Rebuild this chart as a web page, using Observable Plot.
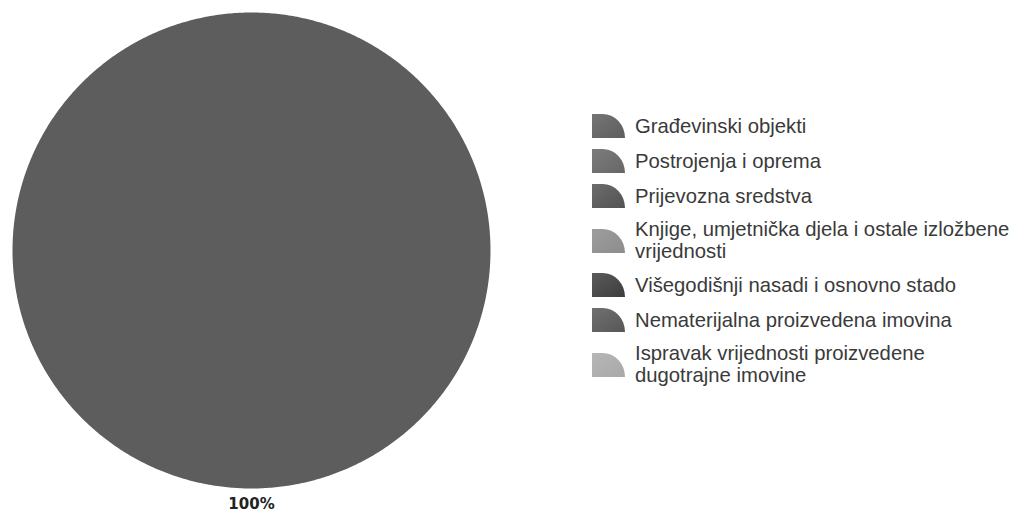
<!DOCTYPE html>
<html>
<head>
<meta charset="utf-8">
<script src="https://cdn.jsdelivr.net/npm/d3@7"></script>
<script src="https://cdn.jsdelivr.net/npm/@observablehq/plot@0.6"></script>
<style>
  html, body { margin: 0; padding: 0; background: #fff; }
  #wrap { position: relative; width: 1014px; height: 512px; overflow: hidden; }
  #legend { position: absolute; left: 592px; top: 113px; font-family: "Liberation Sans", Arial, sans-serif; font-size: 20.3px; line-height: 22px; color: #3a3a3a; }
  .item { display: flex; align-items: center; margin-bottom: 10px; }
  .item svg { flex: none; margin-right: 10px; }
  .item span { white-space: pre-line; }
</style>
</head>
<body>
<div id="wrap"><div id="legend"></div></div>
<script>
const categories = [
  "Građevinski objekti",
  "Postrojenja i oprema",
  "Prijevozna sredstva",
  "Knjige, umjetnička djela i ostale izložbene\nvrijednosti",
  "Višegodišnji nasadi i osnovno stado",
  "Nematerijalna proizvedena imovina",
  "Ispravak vrijednosti proizvedene\ndugotrajne imovine"
];
const shares = [100, 0, 0, 0, 0, 0, 0];
const colors = ["#5d5d5d", "#666666", "#525252", "#8c8c8c", "#3d3d3d", "#575757", "#a9a9a9"];
const percentLabels = ["100%", "", "", "", "", "", ""];

const table = categories.map((c, i) => ({category: c, value: shares[i], label: percentLabels[i]}));
const arcs = d3.pie().value(d => d.value).sort(null)(table).filter(a => a.value > 0);

// slice outlines in unit (data) space
const slicePts = [];
for (const a of arcs) {
  const n = Math.max(2, Math.ceil((a.endAngle - a.startAngle) / (Math.PI / 360)));
  slicePts.push({category: a.data.category, x: 0, y: 0});
  for (let k = 0; k <= n; k++) {
    const t = a.startAngle + (a.endAngle - a.startAngle) * k / n;
    slicePts.push({category: a.data.category, x: Math.sin(t), y: Math.cos(t)});
  }
}
const labelR = 1.065;
const labelPts = arcs.map(a => {
  const m = (a.startAngle + a.endAngle) / 2;
  return {label: a.data.label, x: labelR * Math.sin(m), y: labelR * Math.cos(m)};
});

const chart = Plot.plot({
  width: 1014,
  height: 512,
  marginLeft: 12,
  marginRight: 524,
  marginTop: 12,
  marginBottom: 24,
  x: {domain: [-1, 1], axis: null},
  y: {domain: [-1, 1], axis: null},
  color: {domain: categories, range: colors},
  style: {background: "transparent"},
  marks: [
    Plot.line(slicePts, {x: "x", y: "y", z: "category", fill: "category", stroke: "none", curve: "linear-closed"}),
    Plot.text(labelPts, {x: "x", y: "y", text: "label", fontSize: 15, fontWeight: "bold", fill: "#222", fontFamily: "DejaVu Sans, sans-serif", textAnchor: "middle", lineAnchor: "middle"})
  ]
});
document.getElementById("wrap").prepend(chart);

const legend = document.getElementById("legend");
categories.forEach((c, i) => {
  const item = document.createElement("div");
  item.className = "item";
  const w = 33, h = 25;
  item.innerHTML =
    `<svg width="${w}" height="${h}" viewBox="0 0 ${w} ${h}">` +
    `<defs><linearGradient id="g${i}" x1="0" y1="0" x2="1" y2="1"><stop offset="0" stop-color="${colors[i]}" stop-opacity="0.85"/><stop offset="1" stop-color="${colors[i]}"/></linearGradient></defs>` +
    `<path d="M0,${h} L0,1 L${w * 0.32},1 A${w * 0.68},${h - 1} 0 0 1 ${w},${h} Z" fill="url(#g${i})"/></svg>`;
  const span = document.createElement("span");
  span.textContent = c;
  item.appendChild(span);
  legend.appendChild(item);
});
</script>
</body>
</html>
